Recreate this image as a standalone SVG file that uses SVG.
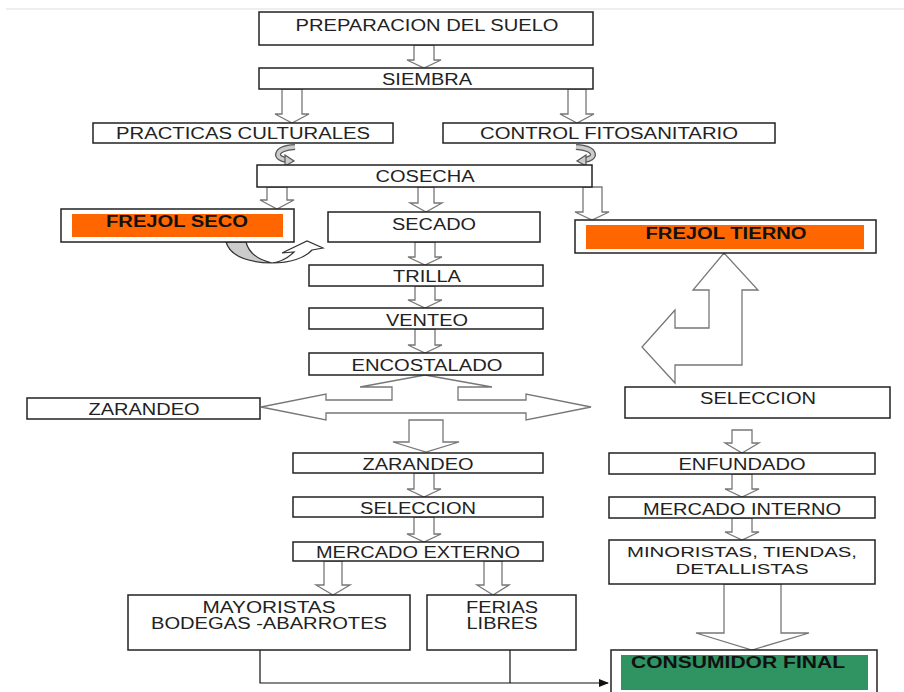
<svg xmlns="http://www.w3.org/2000/svg" width="904" height="692" viewBox="0 0 904 692">
<style>
.box{fill:#fff;stroke:#222;stroke-width:1.5}
.arr{fill:#fff;stroke:#777;stroke-width:1.3;stroke-linejoin:miter}
.t{font-family:"Liberation Sans",Arial,sans-serif;font-size:16px;fill:#222;text-anchor:middle}
.s{font-size:14.5px}
.b{font-weight:bold;fill:#111}
.ln{fill:none;stroke:#111;stroke-width:1.2}
.curl-o{fill:none;stroke:#555;stroke-width:6;stroke-linecap:butt}
.curl-i{fill:none;stroke:#ccc;stroke-width:3.5;stroke-linecap:butt}
</style>
<defs>
<marker id="ah" markerWidth="10" markerHeight="8" refX="9" refY="4" orient="auto" markerUnits="userSpaceOnUse">
<path d="M0,0 L10,4 L0,8 Z" fill="#111"/>
</marker>
</defs>
<rect width="904" height="692" fill="#fff"/>
<line x1="6" y1="9" x2="904" y2="9" stroke="#ddd" stroke-width="1"/>

<g id="connectors">
<polygon class="arr" points="414,45 434,45 434,60 441,60 424,68 407,60 414,60"/>
<polygon class="arr" points="282,89 302,89 302,114 309,114 292,123 275,114 282,114"/>
<polygon class="arr" points="568,89 586,89 586,114 594,114 577,123 560,114 568,114"/>
<path class="curl-o" d="M295,147 C274,148 274,159 287,160"/>
<path class="curl-i" d="M295,147 C274,148 274,159 287,160"/>
<polygon points="285,155 294,161 285,166" fill="#ccc" stroke="#555" stroke-width="1.2"/>
<path class="curl-o" d="M576,147 C597,148 597,159 584,160"/>
<path class="curl-i" d="M576,147 C597,148 597,159 584,160"/>
<polygon points="586,155 577,161 586,166" fill="#ccc" stroke="#555" stroke-width="1.2"/>
<polygon class="arr" points="267,187 287,187 287,200 294,200 277,209 260,200 267,200"/>
<polygon class="arr" points="418,187 434,187 434,203 442,203 426,212 410,203 418,203"/>
<polygon class="arr" points="583,187 602,187 602,212 609,212 592,220 575,212 583,212"/>
<path d="M226,242 Q232,262 272,263 Q250,258 246,242 Z" fill="#ccc" stroke="#333" stroke-width="1.2"/>
<path d="M272,263 C290,263 305,258 312,250 L323,248 L307,241 L282,253 L294,252 C288,258 280,262 272,263 Z" fill="#fff" stroke="#333" stroke-width="1.2"/>
<polygon class="arr" points="415,242 435,242 435,257 442,257 425,265 408,257 415,257"/>
<polygon class="arr" points="415,286 435,286 435,300 442,300 425,308 408,300 415,300"/>
<polygon class="arr" points="415,329 435,329 435,345 442,345 425,353 408,345 415,345"/>
<polygon class="arr" points="425,375 492,387 458,387 458,400 526,400 526,394 591,407 526,420 526,413 326,413 326,420 261,407 326,394 326,400 392,400 392,387 360,387"/>
<polygon class="arr" points="409,420 443,420 443,442 459,442 426,452 393,442 409,442"/>
<polygon class="arr" points="414,473 434,473 434,489 441,489 424,497 407,489 414,489"/>
<polygon class="arr" points="414,517 434,517 434,534 441,534 424,542 407,534 414,534"/>
<polygon class="arr" points="324,561 342,561 342,585 350,585 333,595 316,585 324,585"/>
<polygon class="arr" points="484,561 502,561 502,585 509,585 493,595 477,585 484,585"/>
<polygon class="arr" points="724,253 758,290 742,290 742,365 675,365 675,383 642,347 675,310 675,328 709,328 709,290 693,290"/>
<polygon class="arr" points="732,430 752,430 752,443 759,443 742,453 725,443 732,443"/>
<polygon class="arr" points="732,474 752,474 752,489 759,489 742,497 725,489 732,489"/>
<polygon class="arr" points="732,518 752,518 752,532 759,532 742,540 725,532 732,532"/>
<polygon class="arr" points="724,584 781,584 781,633 809,633 752,650 696,633 724,633"/>
<polyline class="ln" points="260,650 260,683 608,683" marker-end="url(#ah)"/>
<line class="ln" x1="510" y1="650" x2="510" y2="683"/>
</g>

<g id="n-preparacion"><rect class="box" x="259" y="12" width="334" height="33"/><text class="t" x="427" y="31" textLength="263" lengthAdjust="spacingAndGlyphs">PREPARACION DEL SUELO</text></g>
<g id="n-siembra"><rect class="box" x="259" y="68" width="334" height="21"/><text class="t" x="427" y="85" textLength="90" lengthAdjust="spacingAndGlyphs">SIEMBRA</text></g>
<g id="n-practicas"><rect class="box" x="93" y="123" width="300" height="20"/><text class="t" x="243" y="139" textLength="254" lengthAdjust="spacingAndGlyphs">PRACTICAS CULTURALES</text></g>
<g id="n-control"><rect class="box" x="443" y="123" width="332" height="20"/><text class="t" x="609" y="139" textLength="258" lengthAdjust="spacingAndGlyphs">CONTROL FITOSANITARIO</text></g>
<g id="n-cosecha"><rect class="box" x="257" y="165" width="335" height="22"/><text class="t" x="425" y="182" textLength="99" lengthAdjust="spacingAndGlyphs">COSECHA</text></g>
<g id="n-frejol-seco"><rect class="box" x="61" y="209" width="233" height="33"/><rect x="72" y="214" width="211" height="23" fill="#ff6600"/><text class="t b" x="177" y="227" textLength="142" lengthAdjust="spacingAndGlyphs">FREJOL SECO</text></g>
<g id="n-secado"><rect class="box" x="328" y="212" width="212" height="30"/><text class="t" x="434" y="230" textLength="84" lengthAdjust="spacingAndGlyphs">SECADO</text></g>
<g id="n-frejol-tierno"><rect class="box" x="575" y="220" width="301" height="33"/><rect x="586" y="225" width="278" height="24" fill="#ff6600"/><text class="t b" x="726" y="239" textLength="161" lengthAdjust="spacingAndGlyphs">FREJOL TIERNO</text></g>
<g id="n-trilla"><rect class="box" x="309" y="265" width="234" height="21"/><text class="t" x="427" y="282" textLength="68" lengthAdjust="spacingAndGlyphs">TRILLA</text></g>
<g id="n-venteo"><rect class="box" x="309" y="308" width="234" height="21"/><text class="t" x="427" y="326" textLength="82" lengthAdjust="spacingAndGlyphs">VENTEO</text></g>
<g id="n-encostalado"><rect class="box" x="309" y="353" width="234" height="22"/><text class="t" x="427" y="371" textLength="151" lengthAdjust="spacingAndGlyphs">ENCOSTALADO</text></g>
<g id="n-zarandeo-izq"><rect class="box" x="27" y="398" width="233" height="21"/><text class="t" x="144" y="415" textLength="111" lengthAdjust="spacingAndGlyphs">ZARANDEO</text></g>
<g id="n-seleccion-der"><rect class="box" x="625" y="387" width="265" height="31"/><text class="t" x="758" y="404" textLength="116" lengthAdjust="spacingAndGlyphs">SELECCION</text></g>
<g id="n-zarandeo"><rect class="box" x="293" y="453" width="250" height="20"/><text class="t" x="418" y="470" textLength="111" lengthAdjust="spacingAndGlyphs">ZARANDEO</text></g>
<g id="n-seleccion"><rect class="box" x="293" y="497" width="250" height="20"/><text class="t" x="418" y="514" textLength="116" lengthAdjust="spacingAndGlyphs">SELECCION</text></g>
<g id="n-mercado-externo"><rect class="box" x="293" y="542" width="250" height="19"/><text class="t" x="418" y="558" textLength="204" lengthAdjust="spacingAndGlyphs">MERCADO EXTERNO</text></g>
<g id="n-enfundado"><rect class="box" x="609" y="453" width="266" height="21"/><text class="t" x="742" y="470" textLength="127" lengthAdjust="spacingAndGlyphs">ENFUNDADO</text></g>
<g id="n-mercado-interno"><rect class="box" x="609" y="497" width="266" height="21"/><text class="t" x="742" y="515" textLength="198" lengthAdjust="spacingAndGlyphs">MERCADO INTERNO</text></g>
<g id="n-minoristas"><rect class="box" x="609" y="540" width="266" height="44"/><text class="t s" x="742" y="557" textLength="230" lengthAdjust="spacingAndGlyphs">MINORISTAS, TIENDAS,</text><text class="t s" x="742" y="574" textLength="133" lengthAdjust="spacingAndGlyphs">DETALLISTAS</text></g>
<g id="n-mayoristas"><rect class="box" x="128" y="595" width="282" height="55"/><text class="t" x="269" y="613" textLength="133" lengthAdjust="spacingAndGlyphs">MAYORISTAS</text><text class="t" x="269" y="629" textLength="236" lengthAdjust="spacingAndGlyphs">BODEGAS -ABARROTES</text></g>
<g id="n-ferias"><rect class="box" x="427" y="595" width="149" height="55"/><text class="t" x="502" y="613" textLength="72" lengthAdjust="spacingAndGlyphs">FERIAS</text><text class="t" x="502" y="629" textLength="71" lengthAdjust="spacingAndGlyphs">LIBRES</text></g>
<g id="n-consumidor"><rect class="box" x="611" y="650" width="266" height="50"/><rect x="621" y="655" width="247" height="35" fill="#2f9462"/><text class="t b" x="738" y="668" textLength="214" lengthAdjust="spacingAndGlyphs">CONSUMIDOR FINAL</text></g>
</svg>
